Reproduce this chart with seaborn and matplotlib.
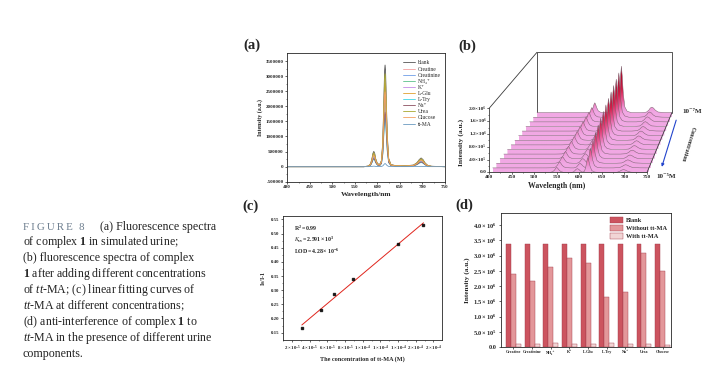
import numpy as np
import pandas as pd
import matplotlib
matplotlib.use('Agg')
import matplotlib.pyplot as plt
from matplotlib.patches import Polygon
from matplotlib.colors import LinearSegmentedColormap, Normalize
import seaborn as sns

sns.set_theme(style='ticks')
plt.rcParams['font.family'] = ['Liberation Serif', 'DejaVu Serif']
plt.rcParams['mathtext.fontset'] = 'custom'
plt.rcParams['mathtext.rm'] = 'Liberation Serif'
plt.rcParams['mathtext.it'] = 'Liberation Serif:italic'
plt.rcParams['mathtext.bf'] = 'Liberation Serif:bold'
plt.rcParams['axes.linewidth'] = 0.6
plt.rcParams['xtick.major.width'] = 0.5
plt.rcParams['ytick.major.width'] = 0.5
plt.rcParams['xtick.minor.width'] = 0.4
plt.rcParams['ytick.minor.width'] = 0.4

# ---------------- data ----------------
# (a) spectra in simulated urine: shape of the blank, normalised to the 617 nm peak
wl_a = [400, 570, 580, 585, 588, 590, 592, 594, 596, 600, 605, 609, 612, 614, 616, 617,
        618, 620, 622, 625, 630, 640, 650, 660, 680, 688, 693, 697, 701, 706, 712, 720, 750]
shape_a = [0, 0, 0.005, 0.03, 0.08, 0.13, 0.15, 0.13, 0.08, 0.03, 0.02, 0.06, 0.25, 0.6, 0.95, 1.0,
           0.95, 0.6, 0.3, 0.08, 0.02, 0.01, 0.012, 0.008, 0.015, 0.04, 0.07, 0.085, 0.07, 0.035, 0.01, 0.003, 0]
samples_a = ['blank', 'Creatine', 'Creatinine', 'NH₄⁺', 'K⁺', 'L-Glu', 'L-Try',
             'Na⁺', 'Urea', 'Glucose', 'tt-MA']
peak_a = [3.37e6, 2.40e6, 2.16e6, 2.62e6, 2.92e6, 2.77e6, 1.63e6, 1.81e6, 3.08e6, 2.48e6, 0.10e6]
colors_a = ['#555555', '#f4a0a0', '#6f9ee8', '#5cc08a', '#c58ae6', '#e0a030', '#40d4e4',
            '#8c5060', '#a8a830', '#f4a060', '#6a9ac0']

# (b) waterfall spectra with tt-MA, front (1e-5 M) to back (1e-7 M)
wl_b = [400, 520, 535, 541, 545, 548, 550, 552, 555, 559, 565, 575, 582, 587, 590, 593, 596, 599,
        603, 607, 611, 614, 617, 619, 621, 624, 628, 634, 645, 670, 684, 690, 694, 698, 702, 707,
        714, 730, 750]
band550 = [0, 0, 0.02, 0.15, 0.45, 0.85, 1.0, 0.85, 0.5, 0.18, 0.04, 0, 0, 0, 0, 0, 0, 0,
           0, 0, 0, 0, 0, 0, 0, 0, 0, 0, 0, 0, 0, 0, 0, 0, 0, 0, 0, 0, 0]
band596 = [0, 0, 0, 0, 0, 0, 0, 0, 0, 0, 0, 0, 0, 0.15, 0.45, 0.85, 1.0, 0.8,
           0.35, 0.1, 0.02, 0, 0, 0, 0, 0, 0, 0, 0, 0, 0, 0, 0, 0, 0, 0, 0, 0, 0]
band619 = [0, 0, 0, 0, 0, 0, 0, 0, 0, 0, 0, 0, 0, 0, 0, 0, 0, 0,
           0, 0, 0.06, 0.3, 0.8, 1.0, 0.8, 0.4, 0.12, 0.03, 0, 0, 0, 0, 0, 0, 0, 0, 0, 0, 0]
band698 = [0, 0, 0, 0, 0, 0, 0, 0, 0, 0, 0, 0, 0, 0, 0, 0, 0, 0,
           0, 0, 0, 0, 0, 0, 0, 0, 0, 0, 0, 0, 0.1, 0.45, 0.85, 1.0, 0.85, 0.45, 0.12, 0.02, 0]
h550 = [0.16, 0.19, 0.21, 0.23, 0.25, 0.27, 0.28, 0.30, 0.31, 0.32, 0.33, 0.34, 0.35, 0.36]
h596 = [0.12, 0.14, 0.15, 0.16, 0.17, 0.18, 0.19, 0.20, 0.21, 0.22, 0.23, 0.24, 0.25, 0.26]
h619 = [0.47, 0.62, 0.74, 0.85, 0.95, 1.04, 1.12, 1.20, 1.28, 1.36, 1.44, 1.52, 1.60, 1.70]
h698 = [0.09, 0.10, 0.11, 0.12, 0.13, 0.13, 0.14, 0.15, 0.16, 0.16, 0.17, 0.18, 0.19, 0.20]

# (c) Stern-Volmer points
conc_c = [3.1e-5, 5.26e-5, 6.76e-5, 8.93e-5, 1.395e-4, 1.687e-4]
resp_c = [0.165, 0.231, 0.285, 0.339, 0.463, 0.530]
xticks_c = [2e-5, 4e-5, 6e-5, 8e-5, 1e-4, 1.2e-4, 1.4e-4, 1.6e-4, 1.8e-4]
xlabels_c = ['2', '4', '6', '8', '1', '1', '1', '2', '2']
xexp_c = ['-5', '-5', '-5', '-5', '-4', '-4', '-4', '-4', '-4']

# (d) anti-interference
comps_d = ['Creatine', 'Creatinine', 'NH₄⁺', 'K⁺', 'L-Glu', 'L-Try', 'Na⁺', 'Urea', 'Glucose']
blank_d = [3.38e6] * 9
without_d = [2.40e6, 2.16e6, 2.62e6, 2.92e6, 2.77e6, 1.63e6, 1.81e6, 3.08e6, 2.48e6]
with_d = [0.11e6, 0.10e6, 0.14e6, 0.10e6, 0.11e6, 0.14e6, 0.10e6, 0.10e6, 0.09e6]

W, H = 702, 380
fig = plt.figure(figsize=(W / 100, H / 100), dpi=100)


def rect(l, t, r, b):
    return [l / W, 1 - b / H, (r - l) / W, (b - t) / H]


# ---------------- (a) ----------------
ax = fig.add_axes(rect(287.3, 53.3, 445, 181.7))
for name, pk, col in zip(samples_a, peak_a, colors_a):
    sns.lineplot(x=wl_a, y=np.array(shape_a) * pk, color=col, lw=0.6, label=name, ax=ax)
ax.set_xlim(400, 750)
ax.set_ylim(-500000, 3.76e6)
ax.set_xticks(range(400, 751, 50))
ax.set_xticks(range(425, 750, 50), minor=True)
yt_a = list(range(-500000, 3500001, 500000))
ax.set_yticks(yt_a)
ax.set_yticklabels([str(v) for v in yt_a])
ax.set_yticks(range(-250000, 3750000, 500000), minor=True)
ax.tick_params(labelsize=3.6, length=1.6, pad=1)
ax.tick_params(which='minor', length=0.9)
for t in ax.get_xticklabels() + ax.get_yticklabels():
    t.set_fontweight('bold')
ax.set_xlabel('Wavelength/nm', fontsize=5.4, fontweight='bold', labelpad=2)
ax.set_ylabel('Intensity (a.u.)', fontsize=4.2, fontweight='bold', labelpad=1.5)
ax.legend(loc='upper right', bbox_to_anchor=(1.0, 0.975), frameon=False, fontsize=4.0,
          handlelength=2.3, labelspacing=0.2, handletextpad=0.5, borderaxespad=0.3)

# ---------------- (b) ----------------
px_nm = 0.4514        # pixels per nm on the front axis
px_int = 31250.0      # intensity per pixel
N = len(h619)
back_shift = 106.3
back_scale = 0.854
back_rise = 1.87e6
wall_top = 3.756e6

axb = fig.add_axes(rect(480, 50, 700, 180))
axb.axis('off')

cmap = LinearSegmentedColormap.from_list(
    'pk', [(0, '#f1a8e4'), (0.12, '#ee98d8'), (0.35, '#e65894'), (0.65, '#d2204a'), (1, '#b40a2c')])
norm = Normalize(0, 1.25e6)


def to_b(wl, inten, k):
    t = k / (N - 1)
    s = 1 - (1 - back_scale) * t
    x = 400 + back_shift * t + (np.asarray(wl, float) - 400) * s
    y = back_rise * t + np.asarray(inten, float) * s
    return x, y, s


for k in range(N - 1, -1, -1):
    spec = (h550[k] * np.array(band550) + h596[k] * np.array(band596)
            + h619[k] * np.array(band619) + h698[k] * np.array(band698)) * 1e6
    x, y, s = to_b(wl_b, spec, k)
    base = back_rise * k / (N - 1)
    low = back_rise * (k - 1) / (N - 1) if k > 0 else 0.0
    z = 2 + (N - k) * 2
    verts = np.vstack([np.column_stack([x, y]), [[x[-1], low], [x[0], low]]])
    poly = Polygon(verts, closed=True, transform=axb.transData, facecolor='none', edgecolor='none')
    top = y.max() + 1
    yy = np.linspace(low, top, 200)
    img = cmap(norm(np.clip((yy - base) / s, 0, None)))[:, None, :]
    im = axb.imshow(img, extent=[x[0], x[-1], low, top], origin='lower', aspect='auto',
                    interpolation='bilinear', zorder=z)
    im.set_clip_path(poly)
    axb.plot(x, y, color='#7a6270', lw=0.35, zorder=z + 0.5)

axb.set_xlim(400 - 9 / px_nm, 400 + 211 / px_nm)
axb.set_ylim(-7.5 * px_int, 122.5 * px_int)

bl = '#3a3a3a'
bx0 = 400 + back_shift
bx1 = 400 + back_shift + 350 * back_scale
axb.plot([bx0, bx0, bx1, bx1], [back_rise, wall_top, wall_top, back_rise], color=bl, lw=0.6, zorder=1)
axb.plot([400, bx0], [2.0e6, wall_top], color=bl, lw=0.6, zorder=1)
axb.plot([750, bx1], [0, back_rise], color=bl, lw=0.6, zorder=60)
axb.plot([400, 750], [0, 0], color=bl, lw=0.6, zorder=60)
axb.plot([400, 400], [0, 2.0e6], color=bl, lw=0.6, zorder=60)
tk = 1.8 * px_int
for w in range(400, 751, 50):
    axb.plot([w, w], [0, -tk], color=bl, lw=0.5, zorder=60, clip_on=False)
    axb.text(w, -2.6 * px_int, str(w), ha='center', va='top', fontsize=3.9, fontweight='bold')
for w in range(425, 750, 50):
    axb.plot([w, w], [0, -tk * 0.55], color=bl, lw=0.4, zorder=60, clip_on=False)
yt_b = [0, 0.4e6, 0.8e6, 1.2e6, 1.6e6, 2.0e6]
yl_b = ['0.0', '4.0×10⁵', '8.0×10⁵', '1.2×10⁶', '1.6×10⁶', '2.0×10⁶']
for v, lab in zip(yt_b, yl_b):
    axb.plot([400, 400 - 1.8 / px_nm], [v, v], color=bl, lw=0.5, zorder=60, clip_on=False)
    axb.text(400 - 2.8 / px_nm, v, lab, ha='right', va='center', fontsize=3.9, fontweight='bold')
for v in [0.2e6, 0.6e6, 1.0e6, 1.4e6, 1.8e6]:
    axb.plot([400, 400 - 1.0 / px_nm], [v, v], color=bl, lw=0.4, zorder=60, clip_on=False)
axb.text(400 + 68 / px_nm, -9.5 * px_int, 'Wavelength (nm)', ha='center', va='top',
         fontsize=5.6, fontweight='bold', clip_on=False)
axb.text(400 - 28 / px_nm, 30 * px_int, 'Intensity (a.u.)', ha='center', va='center',
         rotation=90, fontsize=5.4, fontweight='bold', clip_on=False)
axb.text(400 + 193 / px_nm, 61 * px_int, '10⁻⁷M', ha='left', va='center', fontsize=5.0,
         fontweight='bold', clip_on=False)
axb.text(400 + 167 / px_nm, -4.5 * px_int, '10⁻⁵M', ha='left', va='center', fontsize=5.0,
         fontweight='bold', clip_on=False)
axb.annotate('', xy=(400 + 172 / px_nm, 3 * px_int), xytext=(400 + 188 / px_nm, 55 * px_int),
             arrowprops=dict(arrowstyle='-|>', color='#2244cc', lw=0.8, mutation_scale=4),
             zorder=70, annotation_clip=False)
axb.text(400 + 199 / px_nm, 29 * px_int, 'Concentration', ha='center', va='center',
         rotation=-107, fontsize=4.2, fontweight='bold', clip_on=False)

# ---------------- (c) ----------------
axc = fig.add_axes(rect(283.3, 215.7, 442.3, 340.3))
sns.regplot(x=conc_c, y=resp_c, ci=None, marker='s', ax=axc,
            scatter_kws={'s': 3.5, 'color': 'black', 'zorder': 3},
            line_kws={'color': '#e0241c', 'lw': 0.7})
axc.set_xlim(1.13e-5, 1.9e-4)
axc.set_ylim(0.123, 0.563)
axc.set_xticks(xticks_c)
axc.set_xticks([1e-5 + 2e-5 * i for i in range(9)], minor=True)
axc.set_xticklabels([r'$\mathbf{%s\times10^{%s}}$' % (a, b) for a, b in zip(xlabels_c, xexp_c)])
axc.set_yticks([0.15, 0.20, 0.25, 0.30, 0.35, 0.40, 0.45, 0.50, 0.55])
axc.set_yticks([0.175, 0.225, 0.275, 0.325, 0.375, 0.425, 0.475, 0.525], minor=True)
axc.set_yticklabels(['0.15', '0.20', '0.25', '0.30', '0.35', '0.40', '0.45', '0.50', '0.55'])
axc.tick_params(labelsize=3.5, length=1.6, pad=1)
axc.tick_params(which='minor', length=0.9)
for t in axc.get_yticklabels():
    t.set_fontweight('bold')
axc.set_xlabel('The concentration of tt-MA (M)', fontsize=4.4, fontweight='bold', labelpad=2)
axc.set_ylabel(r'$\mathbf{I_0/I}$-1', fontsize=4.4, fontweight='bold', labelpad=2)
axc.text(0.067, 0.90, r'$\mathbf{R^2=0.99}$', transform=axc.transAxes, fontsize=4.2, va='center')
axc.text(0.067, 0.805, r'$\mathit{K}_{\mathbf{sv}}\mathbf{=2.591\times10^{3}}$',
         transform=axc.transAxes, fontsize=4.2, va='center')
axc.text(0.067, 0.71, r'$\mathbf{LOD=4.28\times10^{-6}}$', transform=axc.transAxes,
         fontsize=4.2, va='center')

# ---------------- (d) ----------------
axd = fig.add_axes(rect(501, 213.3, 671, 347.3))
df_d = pd.DataFrame({
    'component': comps_d * 3,
    'intensity': blank_d + without_d + with_d,
    'group': ['Blank'] * 9 + ['Without tt-MA'] * 9 + ['With tt-MA'] * 9,
})
sns.barplot(data=df_d, x='component', y='intensity', hue='group',
            palette=['#e0404f', '#f08a8e', '#f6d0d0'], width=0.8, errorbar=None,
            edgecolor='#a03848', linewidth=0.3, ax=axd)
axd.set_xlim(-0.67, 8.45)
axd.set_ylim(0, 4.38e6)
yt_d = [0, 0.5e6, 1.0e6, 1.5e6, 2.0e6, 2.5e6, 3.0e6, 3.5e6, 4.0e6]
axd.set_yticks(yt_d)
axd.set_yticklabels(['0.0'] + [r'$\mathbf{%.1f\times10^{%d}}$' % (v / 10 ** int(np.log10(v)), int(np.log10(v)))
                               for v in yt_d[1:]])
axd.tick_params(axis='y', labelsize=4.6, length=1.8, pad=1)
axd.tick_params(axis='x', labelsize=3.0, length=1.2, pad=1)
for t in axd.get_yticklabels() + axd.get_xticklabels():
    t.set_fontweight('bold')
axd.set_xlabel('')
axd.set_ylabel('Intensity (a.u.)', fontsize=5.2, fontweight='bold', labelpad=2)
axd.legend(loc='upper right', bbox_to_anchor=(1.0, 1.0), frameon=False,
           handlelength=2.0, handleheight=1.0, labelspacing=0.35, handletextpad=0.5,
           borderaxespad=0.15, prop={'weight': 'bold', 'size': 4.6})

# ---------------- panel letters ----------------
for lab, x, y in [('(a)', 243, 45), ('(b)', 458, 46.5), ('(c)', 242, 206.5), ('(d)', 455, 205)]:
    fig.text(x / W, 1 - y / H, lab, ha='left', va='center', fontsize=10.5, fontweight='bold')

# ---------------- caption ----------------
cap_x = 22.7
fig.text(cap_x / W, 1 - 229.5 / H, '\u2009'.join('FIGURE') + '\u2009\u2009\u20098', fontsize=7.8,
         color='#6a7b8c', va='baseline')
fig.text(100 / W, 1 - 229.5 / H, '(a) Fluorescence spectra', fontsize=8.6, va='baseline', color='#222222')
cap_lines = [
    r'of complex $\mathbf{1}$ in simulated urine;',
    '(b) fluorescence spectra of complex',
    r'$\mathbf{1}$ after adding different concentrations',
    r'of $\mathit{tt}$-MA; (c) linear fitting curves of',
    r'$\mathit{tt}$-MA at different concentrations;',
    r'(d) anti-interference of complex $\mathbf{1}$ to',
    r'$\mathit{tt}$-MA in the presence of different urine',
    'components.',
]
for i, line in enumerate(cap_lines):
    fig.text(cap_x / W, 1 - (229.5 + 15.9 * (i + 1)) / H, line, fontsize=8.6, va='baseline',
             color='#222222')

fig.savefig('out.png', dpi=100)
